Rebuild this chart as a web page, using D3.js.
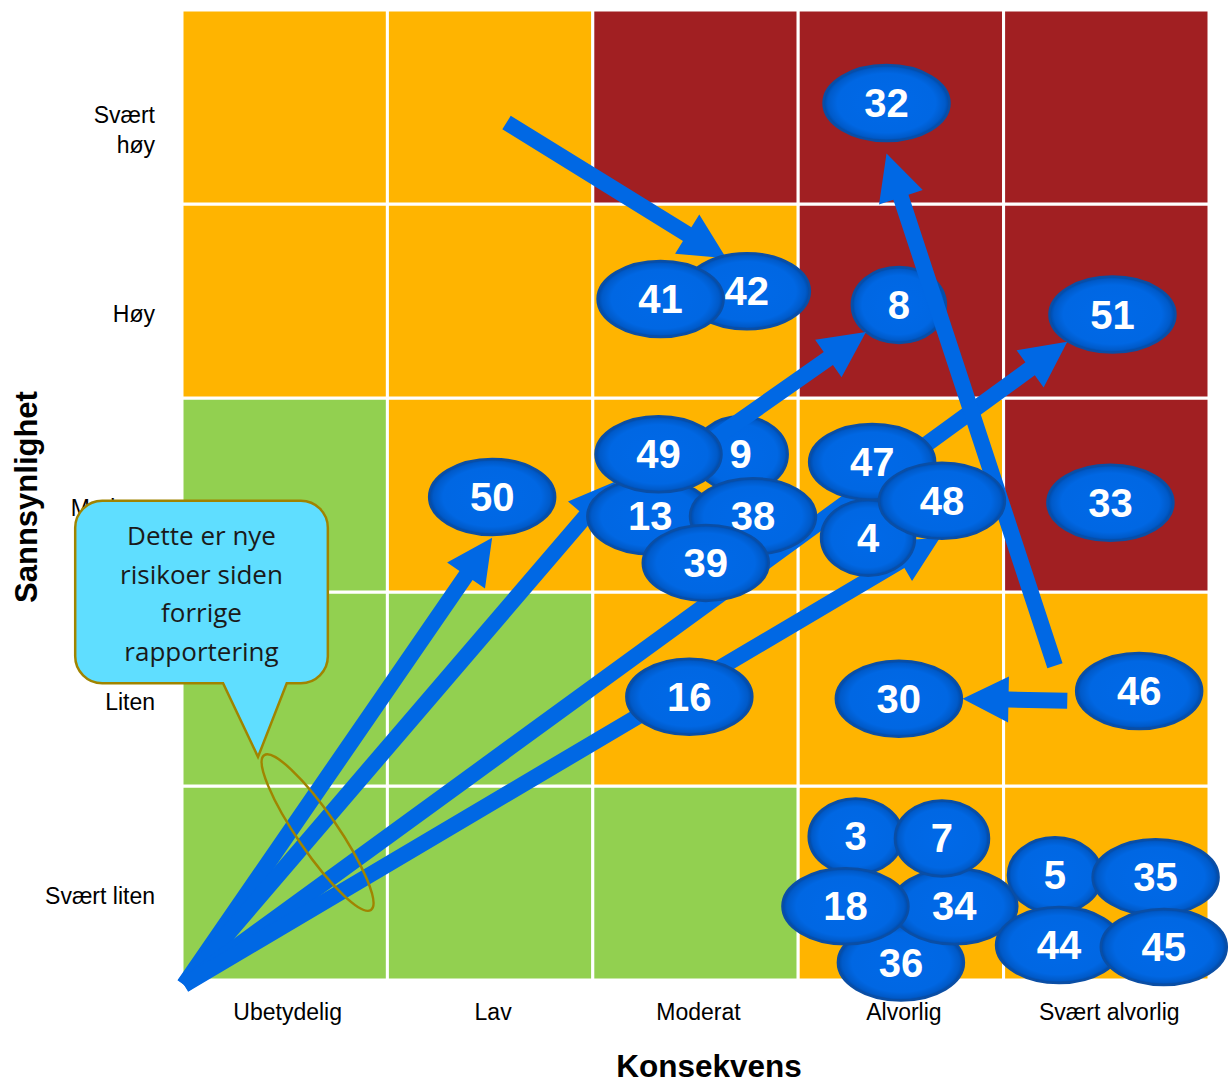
<!DOCTYPE html>
<html>
<head>
<meta charset="utf-8">
<script src="https://cdn.jsdelivr.net/npm/d3@7"></script>
<style>
  body { margin: 0; background: #fff; }
  svg { display: block; }
</style>
</head>
<body>
<div id="wrapper"></div>
<script>
// categories (x = konsekvens, y = sannsynlighet from bottom to top)
const consequences = ["Ubetydelig", "Lav", "Moderat", "Alvorlig", "Svært alvorlig"];
const probabilities = ["Svært liten", "Liten", "Moderat", "Høy", "Svært høy"];
const probabilityLabels = [["Svært liten"], ["Liten"], ["Moderat"], ["Høy"], ["Svært", "høy"]];

// risk level per cell, rows from "Svært liten" up to "Svært høy"
const cellLevels = [
  ["lav", "lav", "lav", "middels", "middels"],
  ["lav", "lav", "middels", "middels", "middels"],
  ["lav", "middels", "middels", "middels", "hoy"],
  ["middels", "middels", "middels", "hoy", "hoy"],
  ["middels", "middels", "hoy", "hoy", "hoy"],
];

// risks in drawing order; position in matrix units (0..5)
const riskIds = ["42", "41", "32", "8", "51", "9", "13", "38", "39", "49", "50", "4", "47", "48", "33",
  "16", "30", "46", "36", "34", "3", "7", "18", "5", "35", "44", "45"];
const riskConsequence = [2.75, 2.33, 3.43, 3.49, 4.53, 2.72, 2.28, 2.78, 2.55, 2.32, 1.51, 3.34, 3.36, 3.70, 4.52,
  2.47, 3.49, 4.66, 3.50, 3.76, 3.28, 3.70, 3.23, 4.25, 4.74, 4.27, 4.78];
const riskProbability = [3.55, 3.51, 4.52, 3.48, 3.43, 2.71, 2.39, 2.39, 2.15, 2.71, 2.49, 2.28, 2.67, 2.47, 2.46,
  1.46, 1.45, 1.49, 0.09, 0.38, 0.74, 0.73, 0.38, 0.54, 0.53, 0.18, 0.17];

// movements (arrows), matrix units; "under" = drawn just below that risk (null = bottom layer)
const moveFromX = [0.01, 0.01, 0.01, 0.01, 2.55, 1.58, 4.25, 4.31];
const moveFromY = [-0.025, -0.025, -0.025, -0.025, 2.76, 4.42, 1.62, 1.44];
const moveToX = [1.51, 2.11, 4.31, 3.69, 3.33, 2.65, 3.43, 3.80];
const moveToY = [2.28, 2.57, 3.29, 2.28, 3.34, 3.72, 4.26, 1.45];
const moveUnder = [null, null, null, null, "13", null, "48", null];

const calloutLines = ["Dette er nye", "risikoer siden", "forrige", "rapportering"];

function drawRiskMatrix() {
  //1. dimensions
  let dimensions = {
    width: 1229,
    height: 1081,
    margin: { top: 10, right: 20, bottom: 101, left: 182 },
  };
  dimensions.boundedWidth = dimensions.width - dimensions.margin.left - dimensions.margin.right;
  dimensions.boundedHeight = dimensions.height - dimensions.margin.top - dimensions.margin.bottom;

  const levelColor = { lav: "#92D050", middels: "#FFB400", hoy: "#A11F22" };
  const blue = "#0068E4";

  //2. canvas
  const svg = d3.select("#wrapper")
    .append("svg")
    .attr("width", dimensions.width)
    .attr("height", dimensions.height);

  const defs = svg.append("defs");
  const grad = defs.append("radialGradient").attr("id", "ballGrad");
  grad.append("stop").attr("offset", "0%").attr("stop-color", "#0069E8");
  grad.append("stop").attr("offset", "78%").attr("stop-color", "#0067E3");
  grad.append("stop").attr("offset", "93%").attr("stop-color", "#005AC9");
  grad.append("stop").attr("offset", "100%").attr("stop-color", "#0049A6");

  //3. scales
  const x0 = dimensions.margin.left;
  const x1 = dimensions.width - dimensions.margin.right;
  const y0 = dimensions.margin.top + dimensions.boundedHeight;
  const y1 = dimensions.margin.top;

  const xBand = d3.scaleBand().domain(consequences).range([x0, x1]);
  const yBand = d3.scaleBand().domain(probabilities).range([y0, y1]);
  const xScale = d3.scaleLinear().domain([0, 5]).range([x0, x1]);
  const yScale = d3.scaleLinear().domain([0, 5]).range([y0, y1]);

  //4. cells
  const cells = [];
  probabilities.forEach((p, r) => {
    consequences.forEach((c, k) => {
      cells.push({ p: p, c: c, level: cellLevels[r][k] });
    });
  });

  svg.append("g")
    .selectAll("rect")
    .data(cells)
    .enter()
    .append("rect")
    .attr("x", (d) => xBand(d.c))
    .attr("y", (d) => yBand(d.p))
    .attr("width", xBand.bandwidth())
    .attr("height", yBand.bandwidth())
    .attr("fill", (d) => levelColor[d.level])
    .attr("stroke", "#fff")
    .attr("stroke-width", 3);

  //5. axis labels
  svg.append("g")
    .selectAll("text")
    .data(consequences)
    .enter()
    .append("text")
    .attr("x", (d) => xBand(d) + xBand.bandwidth() / 2 + 3)
    .attr("y", y0 + 40)
    .attr("text-anchor", "middle")
    .style("font-family", "'Liberation Sans', Arial, sans-serif")
    .style("font-size", "23px")
    .text((d) => d);

  const yLab = svg.append("g")
    .selectAll("text")
    .data(probabilities)
    .enter()
    .append("text")
    .attr("text-anchor", "end")
    .style("font-family", "'Liberation Sans', Arial, sans-serif")
    .style("font-size", "23px");

  yLab.each(function (d, i) {
    const lines = probabilityLabels[i];
    const cy = yBand(d) + yBand.bandwidth() / 2 + 13 + (lines.length > 1 ? 10 : 0);
    d3.select(this)
      .selectAll("tspan")
      .data(lines)
      .enter()
      .append("tspan")
      .attr("x", x0 - 27)
      .attr("y", (l, j) => cy + 8 + (j - (lines.length - 1) / 2) * 30)
      .text((l) => l);
  });

  svg.append("text")
    .attr("x", 709)
    .attr("y", 1077)
    .attr("text-anchor", "middle")
    .style("font-family", "'Liberation Sans', Arial, sans-serif")
    .style("font-size", "31.5px")
    .style("font-weight", "bold")
    .text("Konsekvens");

  svg.append("text")
    .attr("transform", `translate(37,${(y0 + y1) / 2 + 2}) rotate(-90)`)
    .attr("text-anchor", "middle")
    .style("font-family", "'Liberation Sans', Arial, sans-serif")
    .style("font-size", "31px")
    .style("font-weight", "bold")
    .text("Sannsynlighet");

  //6. callout box
  const cx0 = xScale(-0.52), cx1 = xScale(0.71);
  const cy0 = yScale(2.47), cy1 = yScale(1.53);
  const rr = 27;
  const px0 = xScale(0.2), px1 = xScale(0.51), ptx = xScale(0.37), pty = yScale(1.15);
  const callPath = `M${cx0 + rr},${cy0} H${cx1 - rr} A${rr},${rr} 0 0 1 ${cx1},${cy0 + rr} V${cy1 - rr}` +
    ` A${rr},${rr} 0 0 1 ${cx1 - rr},${cy1} H${px1} L${ptx},${pty} L${px0},${cy1} H${cx0 + rr}` +
    ` A${rr},${rr} 0 0 1 ${cx0},${cy1 - rr} V${cy0 + rr} A${rr},${rr} 0 0 1 ${cx0 + rr},${cy0} Z`;

  svg.append("path")
    .attr("d", callPath)
    .attr("fill", "#5FDEFF")
    .attr("stroke", "#A08400")
    .attr("stroke-width", 2.5);

  svg.append("g")
    .selectAll("text")
    .data(calloutLines)
    .enter()
    .append("text")
    .attr("x", (cx0 + cx1) / 2)
    .attr("y", (d, i) => cy0 + 44 + i * 38.7)
    .attr("text-anchor", "middle")
    .style("font-family", "'Open Sans', 'Noto Sans', sans-serif")
    .style("font-size", "26px")
    .style("fill", "#1a1a1a")
    .text((d) => d);

  //7. arrows + risk ellipses
  const moves = moveFromX.map((d, i) => ({
    from: [xScale(moveFromX[i]), yScale(moveFromY[i])],
    to: [xScale(moveToX[i]), yScale(moveToY[i])],
    under: moveUnder[i],
  }));

  function arrowPath(m) {
    const [ax, ay] = m.from, [bx, by] = m.to;
    const len = Math.hypot(bx - ax, by - ay);
    const ux = (bx - ax) / len, uy = (by - ay) / len;
    const nx = -uy, ny = ux;
    const w = 8, h = 23, L = 46;
    const cx = bx - ux * L, cy = by - uy * L;
    const pts = [
      [ax + nx * w, ay + ny * w],
      [cx + nx * w, cy + ny * w],
      [cx + nx * h, cy + ny * h],
      [bx, by],
      [cx - nx * h, cy - ny * h],
      [cx - nx * w, cy - ny * w],
      [ax - nx * w, ay - ny * w],
    ];
    return "M" + pts.map((p) => p.join(",")).join("L") + "Z";
  }

  const marks = svg.append("g");

  function drawArrow(m) {
    marks.append("path")
      .attr("d", arrowPath(m))
      .attr("fill", blue);
  }

  moves.filter((m) => m.under === null).forEach(drawArrow);

  riskIds.forEach((id, i) => {
    moves.filter((m) => m.under === id).forEach(drawArrow);
    const g = marks.append("g")
      .attr("transform", `translate(${xScale(riskConsequence[i])},${yScale(riskProbability[i])})`);
    g.append("ellipse")
      .attr("rx", id.length > 1 ? 63 : 47)
      .attr("ry", 38)
      .attr("fill", "url(#ballGrad)")
      .attr("stroke", "#0A4EA5")
      .attr("stroke-width", 2.5);
    g.append("text")
      .attr("y", 14)
      .attr("text-anchor", "middle")
      .style("font-family", "'Liberation Sans', Arial, sans-serif")
      .style("font-size", "40px")
      .style("font-weight", "bold")
      .style("fill", "#fff")
      .text(id);
  });

  //8. ring around the new risks
  svg.append("ellipse")
    .attr("transform", `translate(${xScale(0.66)},${yScale(0.76)}) rotate(55.4)`)
    .attr("rx", 94)
    .attr("ry", 20)
    .attr("fill", "none")
    .attr("stroke", "#A08400")
    .attr("stroke-width", 2.5);
}

drawRiskMatrix();
</script>
</body>
</html>
